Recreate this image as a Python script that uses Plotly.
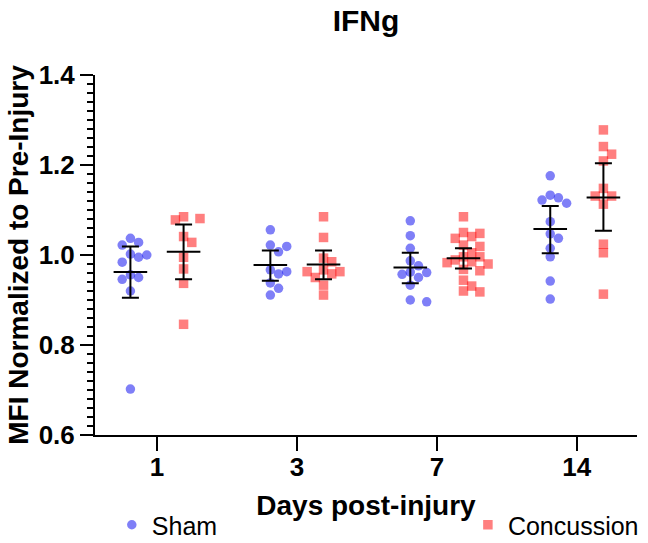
import numpy as np
import plotly.graph_objects as go

days = ["1", "3", "7", "14"]

sham_d1 = [1.037, 1.022, 1.028, 1.002, 0.995, 1.000, 0.984, 0.956, 0.946, 0.950, 0.920, 0.702]
sham_d3 = [1.056, 1.022, 1.019, 1.007, 0.963, 0.967, 0.958, 0.938, 0.926, 0.911]
sham_d7 = [1.076, 1.043, 1.015, 0.987, 0.976, 0.961, 0.957, 0.962, 0.950, 0.933, 0.896, 0.900]
sham_d14 = [1.176, 1.127, 1.133, 1.115, 1.122, 1.074, 1.037, 1.047, 1.015, 0.996, 0.942, 0.902]

conc_d1 = [1.078, 1.081, 1.085, 1.041, 1.028, 0.995, 0.969, 0.937, 0.846]
conc_d3 = [1.085, 1.039, 0.993, 0.985, 0.967, 0.963, 0.963, 0.958, 0.950, 0.933, 0.911]
conc_d7 = [1.085, 1.050, 1.048, 1.041, 1.037, 1.022, 1.019, 1.005, 0.996, 0.996,
           0.989, 0.985, 0.983, 0.980, 0.968, 0.965, 0.944, 0.931, 0.920, 0.918]
conc_d14 = [1.278, 1.241, 1.224, 1.209, 1.148, 1.131, 1.131, 1.113, 1.024, 1.005, 0.913]

sham_mean = [0.962, 0.978, 0.972, 1.058]
sham_hi = [1.019, 1.010, 1.005, 1.109]
sham_lo = [0.905, 0.943, 0.937, 1.004]
conc_mean = [1.007, 0.979, 0.993, 1.128]
conc_hi = [1.068, 1.010, 1.015, 1.204]
conc_lo = [0.946, 0.946, 0.970, 1.054]

sham_groups = [sham_d1, sham_d3, sham_d7, sham_d14]
conc_groups = [conc_d1, conc_d3, conc_d7, conc_d14]

# pixel scale of the plot area (used only for a collision-free swarm layout)
PX_PER_X = 140.0
PX_PER_Y = 450.0
OFF = 0.19


def swarm(vals, d=8.4, step=8.2):
    vals = np.asarray(vals, dtype=float)
    order = np.argsort(-vals)
    placed = []
    offs = np.zeros(len(vals))
    for idx in order:
        ypx = vals[idx] * PX_PER_Y
        for k in range(0, 40):
            cand = 0 if k == 0 else ((k + 1) // 2) * (1 if k % 2 else -1)
            xpx = cand * step
            ok = all((xpx - px) ** 2 + (ypx - py) ** 2 >= d * d for px, py in placed)
            if ok:
                placed.append((xpx, ypx))
                offs[idx] = xpx / PX_PER_X
                break
    return offs


def build(groups, shift):
    xs, ys = [], []
    for i, g in enumerate(groups):
        o = swarm(g)
        xs.extend(list(i + shift + o))
        ys.extend(g)
    return xs, ys


FONT = "Liberation Sans, Arial, sans-serif"
SHAM_C = "rgba(0,0,240,0.5)"
CONC_C = "rgba(255,0,0,0.5)"

fig = go.Figure()
sx, sy = build(sham_groups, -OFF)
cx, cy = build(conc_groups, OFF)
fig.add_trace(go.Scatter(x=sx, y=sy, mode="markers", name="Sham", legend="legend",
                         marker=dict(symbol="circle", size=9.5, color=SHAM_C, line=dict(width=0))))
fig.add_trace(go.Scatter(x=cx, y=cy, mode="markers", name="Concussion", legend="legend2",
                         marker=dict(symbol="square", size=9.5, color=CONC_C, line=dict(width=0))))

for shift, m, hi, lo in [(-OFF, sham_mean, sham_hi, sham_lo), (OFF, conc_mean, conc_hi, conc_lo)]:
    m = np.array(m)
    fig.add_trace(go.Scatter(
        x=[i + shift for i in range(len(days))], y=m, mode="markers", showlegend=False,
        hoverinfo="skip",
        marker=dict(symbol="line-ew", size=24, color="black", line=dict(width=2, color="black")),
        error_y=dict(type="data", symmetric=False, array=np.array(hi) - m,
                     arrayminus=m - np.array(lo), width=8.5, thickness=2, color="black"),
    ))

LEG_FONT = dict(size=25, family=FONT, color="black")
fig.update_layout(
    width=648, height=543,
    margin=dict(l=95, r=11, t=75, b=108, autoexpand=False),
    paper_bgcolor="white", plot_bgcolor="white",
    font=dict(family=FONT, color="black"),
    title=dict(text="IFNg", x=0.5, xref="paper", xanchor="center", y=1 - 20 / 543, yanchor="middle",
               font=dict(size=30, weight="bold", family=FONT, color="black")),
    showlegend=True,
    legend=dict(orientation="h", x=0.031, xanchor="left", y=-0.25, yanchor="middle",
                font=LEG_FONT, bgcolor="rgba(0,0,0,0)"),
    legend2=dict(orientation="h", x=0.688, xanchor="left", y=-0.25, yanchor="middle",
                 font=LEG_FONT, bgcolor="rgba(0,0,0,0)"),
)
fig.update_xaxes(
    range=[-0.443, 3.43], tickmode="array", tickvals=list(range(len(days))), ticktext=days,
    showline=True, linecolor="black", linewidth=2, ticks="outside", ticklen=14, tickwidth=2,
    tickcolor="black", showgrid=False, zeroline=False, automargin=False,
    ticklabelstandoff=-6,
    tickfont=dict(size=26, weight="bold", family=FONT, color="black"),
    title=dict(text="Days post-injury", standoff=14, font=dict(size=28, weight="bold", family=FONT, color="black")),
)
fig.update_yaxes(
    range=[0.6, 1.4], tick0=0.6, dtick=0.2, tickformat=".1f",
    showline=True, linecolor="black", linewidth=2, ticks="outside", ticklen=13, tickwidth=2,
    tickcolor="black", showgrid=False, zeroline=False, automargin=False,
    minor=dict(dtick=0.02, ticks="outside", ticklen=6, tickwidth=1.5, tickcolor="black", showgrid=False),
    tickfont=dict(size=26, weight="bold", family=FONT, color="black"),
    title=dict(text="MFI Normalized to Pre-Injury", standoff=2, font=dict(size=28, weight="bold", family=FONT, color="black")),
)

fig.write_html("out.html", config={"displayModeBar": False},
               post_script="document.body.style.margin='0px';")
